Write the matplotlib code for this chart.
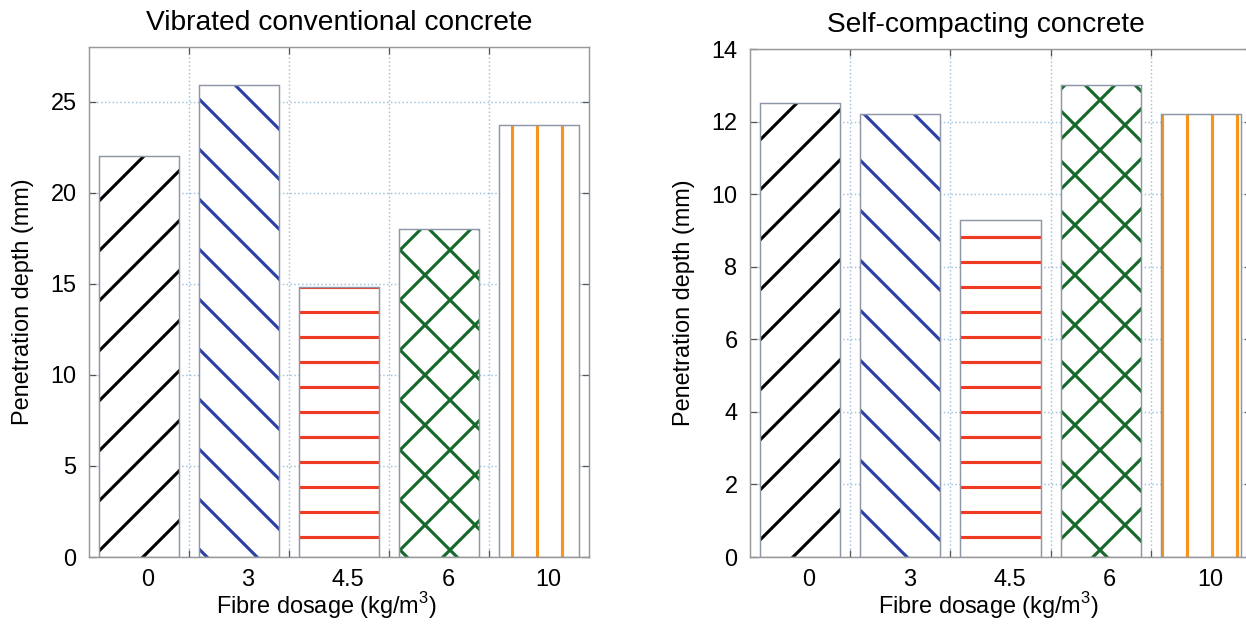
import matplotlib
matplotlib.use('Agg')
import matplotlib.pyplot as plt
import numpy as np

# data
dosage_labels = ['0', '3', '4.5', '6', '10']
vcc_depth = [22.0, 25.9, 14.8, 18.0, 23.7]   # vibrated conventional concrete
scc_depth = [12.5, 12.2, 9.3, 13.0, 12.2]    # self-compacting concrete

hatches = ['/', '\\', '-', 'x', '|']
hatch_colors = ['#000000', '#2b40a6', '#ee3b22', '#17682b', '#f7941d']

plt.rcParams['font.family'] = ['Liberation Sans', 'DejaVu Sans']
plt.rcParams['mathtext.fontset'] = 'custom'
plt.rcParams['mathtext.rm'] = 'Liberation Sans'
plt.rcParams['hatch.linewidth'] = 1.5

W, H = 1246, 627
fig = plt.figure(figsize=(W / 150, H / 150), dpi=150)


def draw_panel(ax, values, title, ylim_top, yticks, title_x=0.5):
    x = np.arange(1, len(values) + 1)
    # hatch layer (hatch colour follows edgecolor), then a thin grey outline
    for xi, v, h, c in zip(x, values, hatches, hatch_colors):
        ax.bar(xi, v, width=0.8, color='white', edgecolor=c, linewidth=0,
               hatch=h, zorder=2)
    ax.bar(x, values, width=0.8, fill=False, edgecolor='#8d97a8',
           linewidth=0.7, zorder=3)

    ax.set_xlim(0.5, len(values) + 0.5)
    ax.set_ylim(0, ylim_top)
    ax.set_yticks(yticks)

    # grid lines sit between the bars, labels near the bar centres
    ax.set_xticks(np.arange(1.5, len(values), 1.0))
    ax.set_xticklabels([])
    ax.set_xticks(x + 0.09, minor=True)
    ax.set_xticklabels(dosage_labels, minor=True)

    ax.grid(True, which='major', linestyle=':', color='#9fc2dc', linewidth=0.7)
    ax.set_axisbelow(True)

    ax.tick_params(axis='both', which='major', direction='in', length=3.5,
                   width=0.6, color='#555555', top=True, right=True,
                   labelsize=11.3, pad=6)
    ax.tick_params(axis='x', which='minor', length=0, labelsize=11.3, pad=6)
    for s in ax.spines.values():
        s.set_color('#999999')
        s.set_linewidth(0.7)

    ax.set_title(title, fontsize=13.5, pad=8, x=title_x)
    ax.set_ylabel('Penetration depth (mm)', fontsize=11.3, labelpad=8)
    ax.set_xlabel(r'Fibre dosage (kg/m$^\mathrm{3}$)', fontsize=11.3)
    ax.xaxis.set_label_coords(0.475, -0.065)


ax1 = fig.add_axes([89 / W, 70 / H, 500 / W, 510 / H])
draw_panel(ax1, vcc_depth, 'Vibrated conventional concrete', 28,
           np.arange(0, 26, 5))

ax2 = fig.add_axes([750 / W, 70 / H, 501 / W, 508 / H])
draw_panel(ax2, scc_depth, 'Self-compacting concrete', 14,
           np.arange(0, 15, 2), title_x=0.47)

fig.savefig('out.png', dpi=150)
